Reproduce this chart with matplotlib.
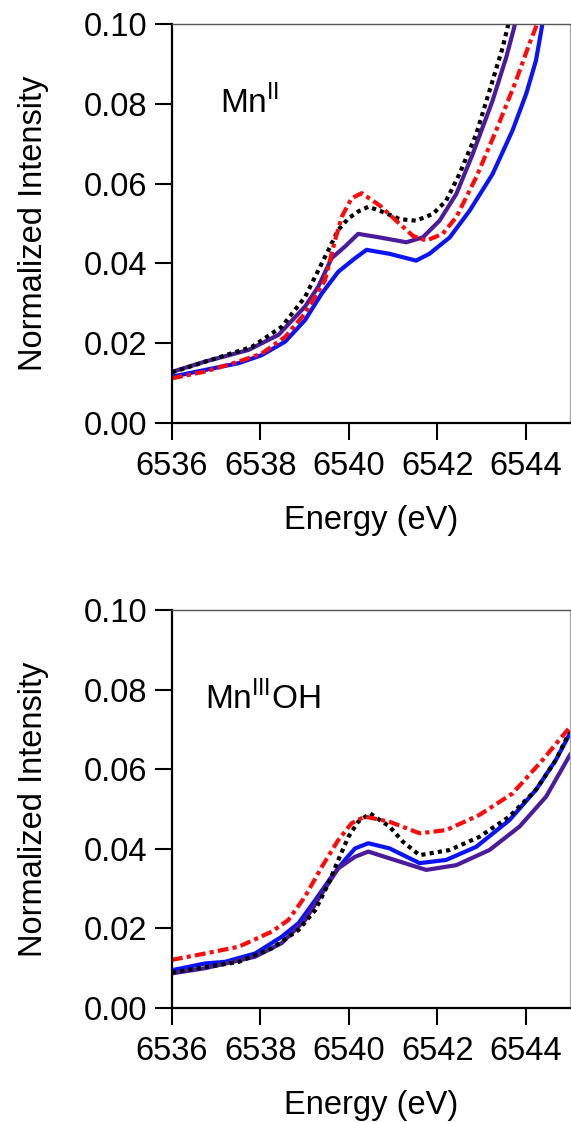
import matplotlib
matplotlib.use("Agg")
import matplotlib.pyplot as plt

plt.rcParams['font.family'] = ['Liberation Sans', 'DejaVu Sans']
plt.rcParams['mathtext.fontset'] = 'custom'
plt.rcParams['mathtext.rm'] = 'Liberation Sans'

# --- Mn(II) panel ---
mn2_blue_x = [6536.0, 6536.75, 6537.51, 6538.03, 6538.56, 6539.01, 6539.39, 6539.76, 6540.14, 6540.40, 6540.92,
              6541.52, 6541.82, 6542.28, 6542.73, 6543.25, 6543.70, 6544.01, 6544.23, 6544.35, 6544.42]
mn2_blue_y = [0.0116, 0.0133, 0.0150, 0.0170, 0.0204, 0.0258, 0.0325, 0.0379, 0.0413, 0.0434, 0.0424,
              0.0407, 0.0424, 0.0465, 0.0532, 0.0624, 0.0733, 0.0825, 0.0908, 0.0983, 0.1030]

mn2_purple_x = [6536.0, 6536.75, 6537.73, 6538.41, 6539.01, 6539.31, 6539.61, 6539.91, 6540.21, 6540.70, 6541.30,
                6541.67, 6542.05, 6542.43, 6542.80, 6543.25, 6543.56, 6543.74, 6543.80]
mn2_purple_y = [0.0128, 0.0154, 0.0183, 0.0221, 0.0292, 0.0342, 0.0413, 0.0442, 0.0474, 0.0465, 0.0453,
                0.0465, 0.0507, 0.0574, 0.0674, 0.0808, 0.0917, 0.0992, 0.1030]

mn2_black_x = [6536.0, 6537.81, 6538.48, 6539.01, 6539.31, 6539.54, 6539.76, 6539.99, 6540.21, 6540.44, 6540.70,
               6541.15, 6541.52, 6541.90, 6542.20, 6542.50, 6542.88, 6543.25, 6543.48, 6543.59, 6543.65]
mn2_black_y = [0.0127, 0.0191, 0.0241, 0.0316, 0.0383, 0.0434, 0.0484, 0.0513, 0.0530, 0.0542, 0.0532,
               0.0511, 0.0507, 0.0524, 0.0557, 0.0624, 0.0724, 0.0858, 0.0942, 0.0992, 0.1030]

mn2_red_x = [6536.0, 6536.75, 6537.51, 6538.03, 6538.56, 6539.01, 6539.46, 6539.69, 6539.84, 6540.06, 6540.29,
             6540.70, 6541.07, 6541.45, 6541.75, 6542.12, 6542.43, 6542.88, 6543.33, 6543.78, 6544.08, 6544.23, 6544.30]
mn2_red_y = [0.0112, 0.0129, 0.0154, 0.0174, 0.0216, 0.0275, 0.0358, 0.0459, 0.0517, 0.0563, 0.0576,
             0.0545, 0.0507, 0.0469, 0.0457, 0.0474, 0.0516, 0.0616, 0.0733, 0.0858, 0.0950, 0.0992, 0.1030]

# --- Mn(III)OH panel ---
mn3_blue_x = [6536.0, 6536.75, 6537.20, 6537.88, 6538.48, 6538.86, 6539.24, 6539.61, 6539.91, 6540.14, 6540.44,
              6540.92, 6541.60, 6542.20, 6542.88, 6543.63, 6544.23, 6544.68, 6545.0]
mn3_blue_y = [0.0095, 0.0112, 0.0116, 0.0137, 0.0179, 0.0213, 0.0271, 0.0330, 0.0372, 0.0401, 0.0414,
              0.0401, 0.0364, 0.0372, 0.0405, 0.0472, 0.0548, 0.0623, 0.0690]

mn3_purple_x = [6536.0, 6536.75, 6537.88, 6538.48, 6539.01, 6539.39, 6539.76, 6540.14, 6540.44, 6540.92, 6541.75,
                6542.43, 6543.18, 6543.86, 6544.46, 6545.0]
mn3_purple_y = [0.0087, 0.0100, 0.0129, 0.0163, 0.0221, 0.0288, 0.0351, 0.0380, 0.0393, 0.0376, 0.0347,
                0.0359, 0.0397, 0.0456, 0.0531, 0.0636]

mn3_black_x = [6536.0, 6537.51, 6538.26, 6538.86, 6539.24, 6539.54, 6539.76, 6539.99, 6540.21, 6540.48, 6540.92,
               6541.22, 6541.60, 6542.28, 6542.95, 6543.63, 6544.23, 6544.68, 6545.0]
mn3_black_y = [0.0089, 0.0116, 0.0150, 0.0196, 0.0246, 0.0313, 0.0372, 0.0430, 0.0468, 0.0489, 0.0456,
               0.0418, 0.0384, 0.0397, 0.0430, 0.0481, 0.0548, 0.0623, 0.0695]

mn3_red_x = [6536.0, 6536.75, 6537.51, 6538.26, 6538.63, 6539.01, 6539.39, 6539.76, 6540.06, 6540.36, 6540.92,
             6541.60, 6542.20, 6542.95, 6543.70, 6544.38, 6544.91, 6545.0]
mn3_red_y = [0.0121, 0.0137, 0.0154, 0.0192, 0.0221, 0.0280, 0.0355, 0.0422, 0.0464, 0.0481, 0.0468,
             0.0439, 0.0447, 0.0485, 0.0539, 0.0623, 0.0694, 0.0705]

x_ticks = [6536, 6538, 6540, 6542, 6544]
y_ticks = [0.00, 0.02, 0.04, 0.06, 0.08, 0.10]

BLUE = '#0a14f5'
PURPLE = '#4a1c9c'
RED = '#ff0a0a'
LW = 3.0
FS = 23.5

fig = plt.figure(figsize=(5.71, 11.22), dpi=100)
ax_top = fig.add_axes([0.3012, 0.623, 0.697, 0.3556])
ax_bot = fig.add_axes([0.3012, 0.1016, 0.697, 0.3547])


def draw_panel(ax, blue, purple, black, red, label, lx, ly):
    ax.plot(*blue, color=BLUE, lw=LW, solid_joinstyle='round')
    ax.plot(*purple, color=PURPLE, lw=LW, solid_joinstyle='round')
    ax.plot(*black, color='black', lw=LW, linestyle=(0, (1.0, 1.0)), dash_capstyle='butt')
    ax.plot(*red, color=RED, lw=LW, linestyle=(0, (2.6, 1.0, 1.0, 1.0)), dash_capstyle='butt')

    ax.set_xlim(6536, 6545)
    ax.set_ylim(0, 0.10)
    ax.set_xticks(x_ticks)
    ax.set_yticks(y_ticks)
    ax.set_yticklabels([f"{v:.2f}" for v in y_ticks])
    ax.tick_params(direction='out', length=12, width=1.5, labelsize=FS, pad=6)
    ax.tick_params(axis='x', pad=8)

    for side in ('left', 'bottom'):
        ax.spines[side].set_linewidth(1.6)
        ax.spines[side].set_color('black')
    ax.spines['top'].set_linewidth(1.0)
    ax.spines['top'].set_color('#555555')
    ax.spines['right'].set_linewidth(1.0)
    ax.spines['right'].set_color('#aaaaaa')

    ax.set_xlabel("Energy (eV)", fontsize=FS)
    ax.set_ylabel("Normalized Intensity", fontsize=FS)
    ax.yaxis.set_label_coords(-0.31, 0.5)
    ax.xaxis.set_label_coords(0.5, -0.205)
    ax.text(lx, ly, label, transform=ax.transAxes, fontsize=24,
            ha='left', va='baseline')


draw_panel(ax_top, (mn2_blue_x, mn2_blue_y), (mn2_purple_x, mn2_purple_y),
           (mn2_black_x, mn2_black_y), (mn2_red_x, mn2_red_y),
           r"Mn$^{\mathregular{II}}$", 0.12, 0.777)
draw_panel(ax_bot, (mn3_blue_x, mn3_blue_y), (mn3_purple_x, mn3_purple_y),
           (mn3_black_x, mn3_black_y), (mn3_red_x, mn3_red_y),
           r"Mn$^{\mathregular{III}}$OH", 0.083, 0.75)

fig.savefig("out.png", dpi=100)
